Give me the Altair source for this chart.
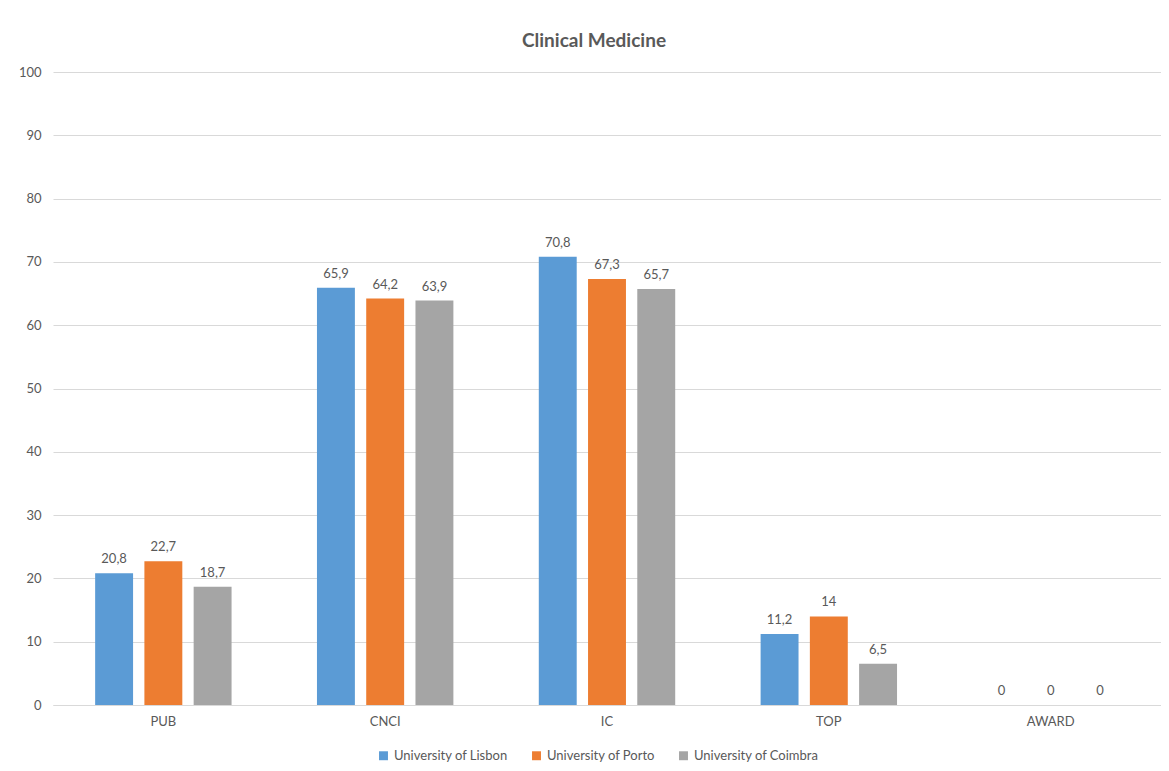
import altair as alt
import pandas as pd

categories = ["PUB", "CNCI", "IC", "TOP", "AWARD"]
series = ["University of Lisbon", "University of Porto", "University of Coimbra"]
lisbon = [20.8, 65.9, 70.8, 11.2, 0]
porto = [22.7, 64.2, 67.3, 14, 0]
coimbra = [18.7, 63.9, 65.7, 6.5, 0]
colors = ["#5B9BD5", "#ED7D31", "#A5A5A5"]
y_ticks = list(range(0, 101, 10))

rows = []
for name, vals in zip(series, [lisbon, porto, coimbra]):
    for c, v in zip(categories, vals):
        lab = ("%g" % v).replace(".", ",")
        rows.append({"category": c, "series": name, "value": v, "label": lab})
df = pd.DataFrame(rows)

FONT = "Lato"
TXT = "#595959"

x = alt.X("category:N", sort=categories, title=None,
          scale=alt.Scale(paddingInner=0.385, paddingOuter=0.19),
          axis=alt.Axis(labelAngle=0, labelPadding=10, ticks=False, domain=True,
                        domainColor="#D9D9D9", labelFont=FONT, labelFontSize=13,
                        labelColor=TXT))
xo = alt.XOffset("series:N", sort=series, scale=alt.Scale(paddingInner=0.23))
y = alt.Y("value:Q", title=None,
          scale=alt.Scale(domain=[0, 100], nice=False),
          axis=alt.Axis(values=y_ticks, ticks=False, domain=False, labelPadding=12,
                        gridColor="#D9D9D9", labelFont=FONT, labelFontSize=13,
                        labelColor=TXT))

base = alt.Chart(df)
bars = base.mark_bar().encode(
    x=x, xOffset=xo, y=y,
    color=alt.Color("series:N", sort=series,
                    scale=alt.Scale(domain=series, range=colors),
                    legend=alt.Legend(title=None, orient="none", direction="horizontal",
                                      legendX=324, legendY=677,
                                      symbolType="square", symbolSize=80,
                                      labelFont=FONT, labelFontSize=13, labelColor=TXT,
                                      columnPadding=22)),
)
texts = base.mark_text(baseline="bottom", dy=-7, font=FONT, fontSize=13, color=TXT).encode(
    x=alt.X("category:N", sort=categories), xOffset=xo,
    y=alt.Y("value:Q"), text="label:N",
)

chart = alt.layer(bars, texts).properties(
    width=1108, height=633,
    title=alt.TitleParams("Clinical Medicine", font=FONT, fontSize=19, fontWeight="bold",
                          color=TXT, offset=15, dx=-13),
    autosize=alt.AutoSizeParams(type="none"),
    padding={"left": 45, "top": 64, "right": 0, "bottom": 66},
).configure_view(stroke=None)

chart.save("out.html", embed_options={"renderer": "svg", "actions": False})
